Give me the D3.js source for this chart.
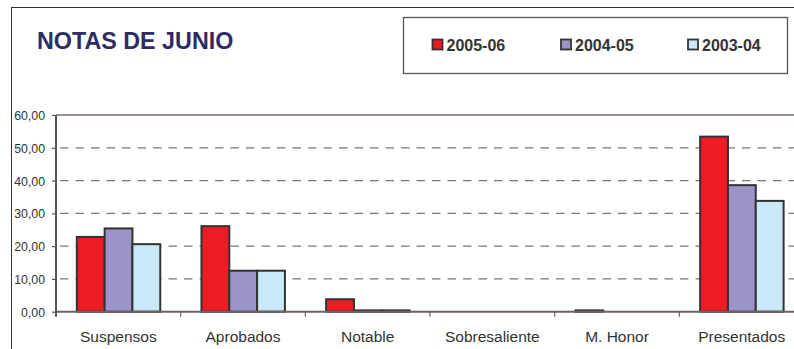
<!DOCTYPE html>
<html><head><meta charset="utf-8">
<script src="https://cdn.jsdelivr.net/npm/d3@7"></script>
<style>body{margin:0;background:#fff}svg{display:block}</style>
</head><body>
<script>
const categories = ["Suspensos","Aprobados","Notable","Sobresaliente","M. Honor","Presentados"];
const seriesNames = ["2005-06","2004-05","2003-04"];
const s2005 = [22.8, 26.1, 3.8, 0, 0.4, 53.4];
const s2004 = [25.4, 12.5, 0.4, 0, 0, 38.6];
const s2003 = [20.6, 12.5, 0.4, 0, 0, 33.8];
const seriesValues = [s2005, s2004, s2003];
const colors = ["#ed1c24", "#9b94c6", "#c9e9f8"];
const yTicks = [0,10,20,30,40,50,60];
const title = "NOTAS DE JUNIO";

const W = 794, H = 349;
const svg = d3.select("body").append("svg").attr("width", W).attr("height", H);

// outer frame
svg.append("rect").attr("x", 11.5).attr("y", 7.5).attr("width", 800).attr("height", 400)
  .attr("fill", "none").attr("stroke", "#333").attr("stroke-width", 1);

// title
svg.append("text").attr("x", 37).attr("y", 48.5).text(title)
  .attr("font-family", "Liberation Sans, Arial, sans-serif").attr("font-weight", "bold")
  .attr("font-size", 23.3).attr("fill", "#2d2d62");

// legend box
svg.append("rect").attr("x", 403.5).attr("y", 17.5).attr("width", 384).attr("height", 56)
  .attr("fill", "#fff").attr("stroke", "#555").attr("stroke-width", 1.3);
const legendX = [432, 560.5, 687.5];
seriesNames.forEach((n, i) => {
  svg.append("rect").attr("x", legendX[i] + 0.5).attr("y", 39.5).attr("width", 10).attr("height", 10)
    .attr("fill", colors[i]).attr("stroke", "#333").attr("stroke-width", 1.8);
  svg.append("text").attr("x", legendX[i] + 14.5).attr("y", 51).text(n)
    .attr("font-family", "Liberation Sans, Arial, sans-serif").attr("font-weight", "bold")
    .attr("font-size", 16).attr("fill", "#333");
});

// scales
const x0 = 56, x1 = 804, yTop = 115, yZero = 311.7;
const x = d3.scaleBand().domain(categories).range([x0, x1]).padding(0);
const xs = d3.scaleBand().domain(seriesNames).range([20.8, x.bandwidth() - 20.4]).padding(0);
const y = d3.scaleLinear().domain([0, 60]).range([yZero, yTop]);

// gridlines
svg.append("g").selectAll("line").data(yTicks.filter(t => t > 0 && t < 60)).join("line")
  .attr("x1", x0 + 4).attr("x2", x1).attr("y1", d => y(d)).attr("y2", d => y(d))
  .attr("stroke", "#777").attr("stroke-width", 1.3).attr("stroke-dasharray", "8.5,7");
svg.append("line").attr("x1", x0).attr("x2", x1).attr("y1", y(60)).attr("y2", y(60))
  .attr("stroke", "#9c8e8e").attr("stroke-width", 2);

// bars
const bars = [];
categories.forEach((c, ci) => seriesNames.forEach((s, si) => {
  const v = seriesValues[si][ci];
  if (v > 0) bars.push({c, s, v, si});
}));
svg.append("g").selectAll("rect").data(bars).join("rect")
  .attr("x", d => x(d.c) + xs(d.s))
  .attr("width", xs.bandwidth())
  .attr("y", d => y(d.v))
  .attr("height", d => yZero - y(d.v))
  .attr("fill", d => colors[d.si])
  .attr("stroke", "#333").attr("stroke-width", 2);

// x axis
const xAxis = d3.axisBottom(x).tickSize(0).tickPadding(0);
const gx = svg.append("g").attr("transform", `translate(0,${yZero})`).call(xAxis);
gx.select(".domain").remove();
gx.selectAll("text").attr("dy", 0).attr("y", 30)
  .attr("font-family", "Liberation Sans, Arial, sans-serif").attr("font-size", 15.5).attr("fill", "#333");
svg.append("line").attr("x1", x0).attr("x2", x1).attr("y1", yZero).attr("y2", yZero)
  .attr("stroke", "#6e6262").attr("stroke-width", 2);
svg.append("g").selectAll("line").data(categories.slice(1)).join("line")
  .attr("x1", d => x(d)).attr("x2", d => x(d)).attr("y1", yZero).attr("y2", yZero + 5)
  .attr("stroke", "#6e6262").attr("stroke-width", 1.2);

// y axis
const yAxis = d3.axisLeft(y).tickValues(yTicks).tickSize(4).tickPadding(7)
  .tickFormat(d => d3.format(".2f")(d).replace(".", ","));
const gy = svg.append("g").attr("transform", `translate(${x0},0)`).call(yAxis);
gy.select(".domain").remove();
gy.selectAll(".tick line").attr("stroke", "#555").attr("stroke-width", 1.2);
gy.selectAll("text").attr("font-family", "Liberation Sans, Arial, sans-serif")
  .attr("font-size", 12.3).attr("fill", "#333").attr("dy", "0.36em");
svg.append("line").attr("x1", x0).attr("x2", x0).attr("y1", yTop).attr("y2", yZero + 5)
  .attr("stroke", "#5e5252").attr("stroke-width", 2);
</script>
</body></html>
